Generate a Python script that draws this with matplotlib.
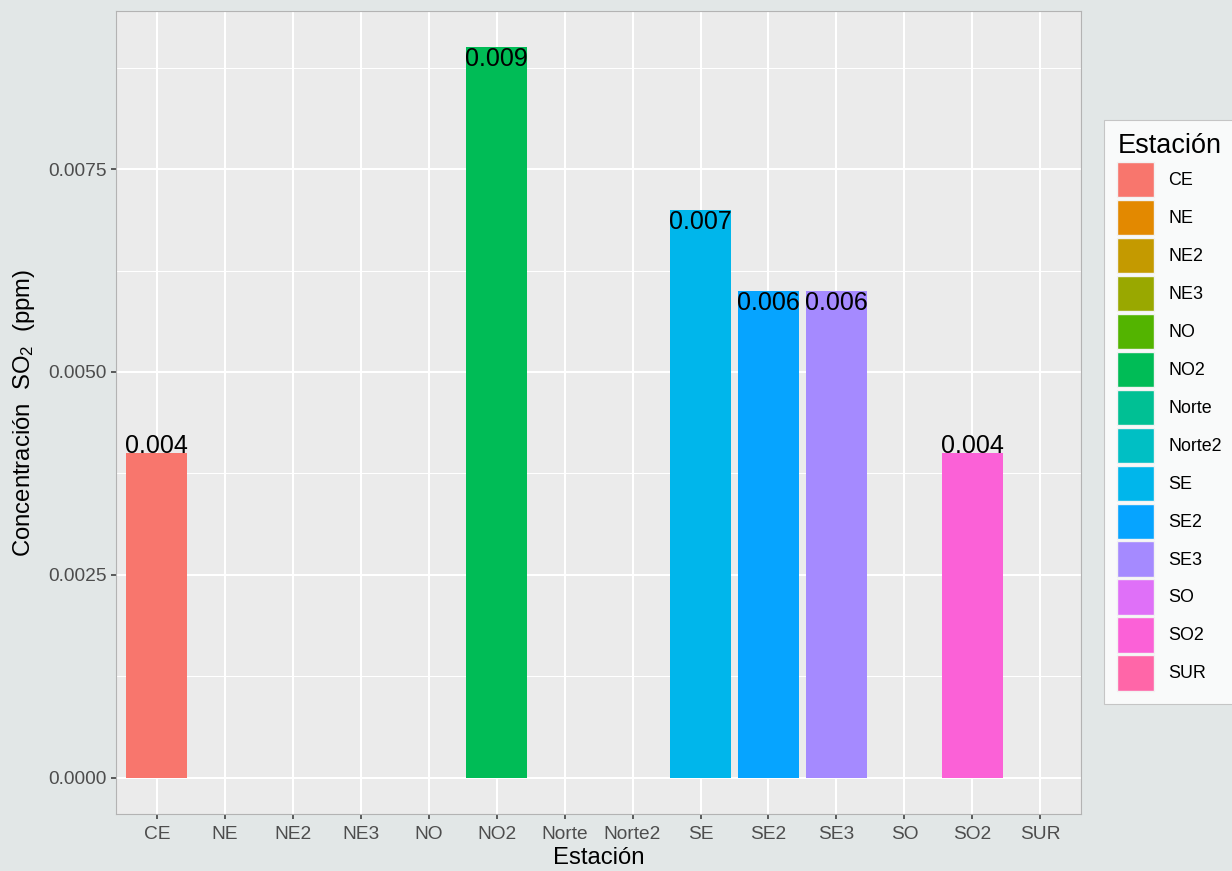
import numpy as np
import matplotlib
matplotlib.use('Agg')
import matplotlib.pyplot as plt
from matplotlib.patches import Patch

# Datos
estaciones = ['CE', 'NE', 'NE2', 'NE3', 'NO', 'NO2', 'Norte', 'Norte2',
              'SE', 'SE2', 'SE3', 'SO', 'SO2', 'SUR']
so2_ppm = [0.004, np.nan, np.nan, np.nan, np.nan, 0.009, np.nan, np.nan,
           0.007, 0.006, 0.006, np.nan, 0.004, np.nan]
etiquetas = ['0.004', '', '', '', '', '0.009', '', '',
             '0.007', '0.006', '0.006', '', '0.004', '']
colores = ['#F8766D', '#E38900', '#C49A00', '#99A800', '#53B400', '#00BC56', '#00C094',
           '#00BFC4', '#00B6EB', '#06A4FF', '#A58AFF', '#DF70F8', '#FB61D7', '#FF66A8']
y_ticks = [0.0, 0.0025, 0.005, 0.0075]
y_minor = [0.00125, 0.00375, 0.00625, 0.00875]

plt.rcParams['font.family'] = ['Liberation Sans', 'DejaVu Sans']
plt.rcParams['mathtext.fontset'] = 'custom'
plt.rcParams['mathtext.rm'] = 'Liberation Sans'
plt.rcParams['mathtext.default'] = 'regular'

fig = plt.figure(figsize=(12.32, 8.71), dpi=100)
fig.patch.set_facecolor('#E2E7E7')
ax = fig.add_axes([0.0942, 0.0654, 0.7833, 0.9220])
ax.set_facecolor('#EBEBEB')

x = np.arange(len(estaciones))
for i, (v, c, lab) in enumerate(zip(so2_ppm, colores, etiquetas)):
    if np.isnan(v):
        continue
    ax.bar(i, v, width=0.9, color=c, zorder=3)
    # las etiquetas bajas quedan encima de la barra, las altas dentro
    va = 'baseline' if v < 0.005 else 'top'
    ax.text(i, v, lab, ha='center', va=va, fontsize=18, color='black', zorder=4)

ax.set_xlim(-0.6, len(estaciones) - 0.4)
ax.set_ylim(-0.00045, 0.00945)
ax.set_xticks(x)
ax.set_xticklabels(estaciones)
ax.set_yticks(y_ticks)
ax.set_yticklabels(['0.0000', '0.0025', '0.0050', '0.0075'])
ax.set_yticks(y_minor, minor=True)

ax.grid(which='major', color='white', linewidth=1.5, zorder=0)
ax.grid(which='minor', axis='y', color='white', linewidth=0.75, zorder=0)
ax.set_axisbelow(True)
ax.tick_params(axis='both', which='major', colors='#333333', length=3.6, width=1.1,
               labelsize=13.8, labelcolor='#4D4D4D', pad=3)
ax.tick_params(axis='x', which='major', pad=5)
ax.tick_params(axis='y', which='minor', length=0)
for s in ax.spines.values():
    s.set_color('#B3B3B3')
    s.set_linewidth(0.8)

ax.set_xlabel('Estación', fontsize=17.2, color='black', labelpad=3)
ax.set_ylabel('Concentración  SO$_2$  (ppm)', fontsize=17.2, color='black', labelpad=8)

handles = [Patch(facecolor=c, edgecolor='#F2F2F2', linewidth=1) for c in colores]
leg = fig.legend(handles, estaciones, title='Estación', loc='center left',
                 bbox_to_anchor=(0.896, 0.527), fontsize=12.9, title_fontsize=19.5,
                 frameon=True, fancybox=False, handlelength=2.05, handleheight=2.65,
                 labelspacing=0.15, handletextpad=0.8, borderpad=0.75, borderaxespad=0)
leg.get_frame().set_facecolor('white')
leg.get_frame().set_edgecolor('#BBBBBB')
leg.get_frame().set_linewidth(0.8)
leg._legend_box.align = 'left'

fig.savefig('out.png', dpi=100, facecolor=fig.get_facecolor())
